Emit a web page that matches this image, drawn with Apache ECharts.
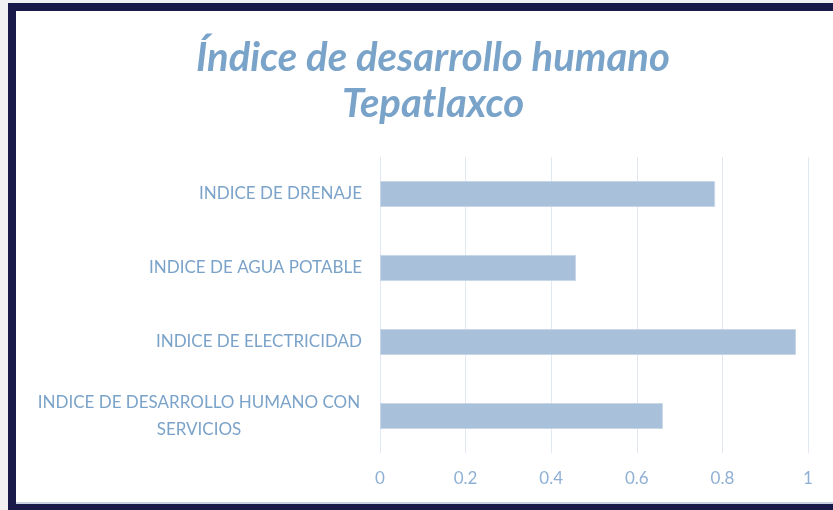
<!DOCTYPE html>
<html>
<head>
<meta charset="utf-8">
<script src="https://cdn.jsdelivr.net/npm/echarts@6/dist/echarts.min.js"></script>
<style>
html,body{margin:0;padding:0;background:#f1f1f3;}
#c{width:833px;height:510px;}
</style>
</head>
<body>
<div id="c"></div>
<script>
var titleLines = ['Índice de desarrollo humano', 'Tepatlaxco'];
var categories = ['INDICE DE DRENAJE', 'INDICE DE AGUA POTABLE', 'INDICE DE ELECTRICIDAD', 'INDICE DE DESARROLLO HUMANO CON SERVICIOS'];
var values = [0.783, 0.458, 0.972, 0.661];
var xTicks = [0, 0.2, 0.4, 0.6, 0.8, 1];

var chart = echarts.init(document.getElementById('c'));
var FONT = 'Lato';
chart.setOption({
  backgroundColor: '#f1f1f3',
  animation: false,
  graphic: [
    {type:'rect', shape:{x:8,y:3,width:825,height:507}, style:{fill:'#19194a'}, z:-10},
    {type:'rect', shape:{x:16,y:11,width:817,height:492}, style:{fill:'#ffffff'}, z:-9},
    {type:'rect', shape:{x:16,y:502,width:817,height:2}, style:{fill:'#c9d3e3'}, z:-9}
  ],
  title: {
    text: titleLines.join('\n'),
    left: 428, top: 30, textAlign: 'center',
    textStyle: {fontFamily: FONT, fontStyle:'italic', fontWeight:'bold', fontSize: 40, color:'#7aa3c9', lineHeight: 46}
  },
  grid: {left: 380, right: 25, top: 157, bottom: 57, containLabel: false},
  xAxis: {
    type: 'value', min: 0, max: 1, interval: 0.2,
    axisLine: {show:false}, axisTick: {show:false},
    splitLine: {lineStyle: {color:'#e1e8f1', width:1}},
    axisLabel: {margin: 17, fontFamily: FONT, fontSize: 17, color:'#8fb0d4',
      formatter: function(v){ return String(Math.round(v*10)/10); }}
  },
  yAxis: {
    type: 'category', data: categories, inverse: true,
    axisLine: {show:false}, axisTick: {show:false},
    axisLabel: {margin: 18, fontFamily: FONT, fontSize: 17, color:'#7ba3c9',
      formatter: function(v){
        if (v.length > 30) {
          var i = v.lastIndexOf(' ');
          return '{c|' + v.slice(0,i) + '}\n{c|' + v.slice(i+1) + '}';
        }
        return v;
      },
      rich: {c: {width: 326, align:'center', fontFamily: FONT, fontSize: 17, color:'#7ba3c9', lineHeight: 27}}
    }
  },
  series: [{
    type: 'bar', data: values, barWidth: 26,
    itemStyle: {color:'#a8c0da', borderColor:'#c8d7e8', borderWidth:1}
  }]
});
</script>
</body>
</html>
